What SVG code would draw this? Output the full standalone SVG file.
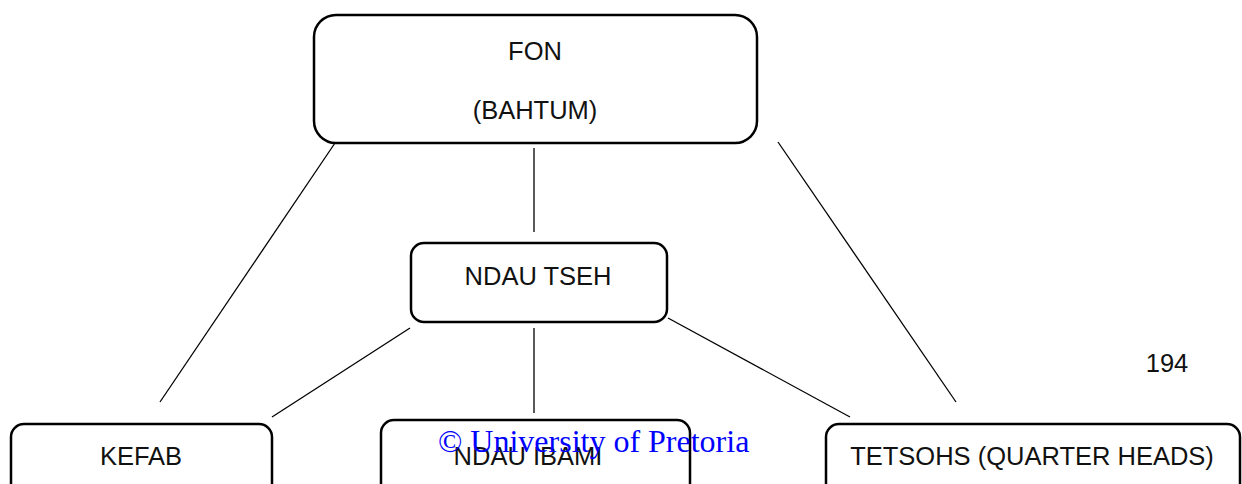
<svg xmlns="http://www.w3.org/2000/svg" width="1242" height="484" viewBox="0 0 1242 484">
<style>
.box{fill:#fff;stroke:#000;stroke-width:2.5}
.lbl{font-family:"Liberation Sans",Arial,sans-serif;font-size:25.5px;fill:#111;text-anchor:middle}
.conn line{stroke:#000;stroke-width:1.3}
.wm{font-family:"Liberation Serif","Times New Roman",serif;font-size:32px;fill:#0000ff}
</style>
<rect width="1242" height="484" fill="#fff"/>
<g id="connectors" class="conn">
<line x1="335" y1="143" x2="160" y2="402"/>
<line x1="534" y1="148" x2="534" y2="232"/>
<line x1="778" y1="142" x2="956" y2="402"/>
<line x1="410" y1="328" x2="272" y2="417"/>
<line x1="534" y1="328" x2="534" y2="413"/>
<line x1="668" y1="318" x2="850" y2="417"/>
</g>
<g id="node-fon">
<rect class="box" x="314" y="15" width="443" height="128" rx="22"/>
<text class="lbl" x="535" y="60">FON</text>
<text class="lbl" x="535" y="119">(BAHTUM)</text>
</g>
<g id="node-ndau-tseh">
<rect class="box" x="411" y="243" width="256" height="79" rx="13"/>
<text class="lbl" x="538" y="285">NDAU TSEH</text>
</g>
<g id="node-kefab">
<rect class="box" x="11" y="424" width="261" height="80" rx="13"/>
<text class="lbl" x="141" y="465">KEFAB</text>
</g>
<g id="node-ndau-ibami">
<rect class="box" x="381" y="420" width="309" height="80" rx="13"/>
<text class="lbl" x="528" y="465">NDAU IBAMI</text>
</g>
<g id="node-tetsohs">
<rect class="box" x="826" y="424" width="414" height="80" rx="13"/>
<text class="lbl" x="1032" y="465">TETSOHS (QUARTER HEADS)</text>
</g>
<text class="lbl" x="1167" y="372">194</text>
<text class="wm" x="438" y="452">© University of Pretoria</text>
</svg>
